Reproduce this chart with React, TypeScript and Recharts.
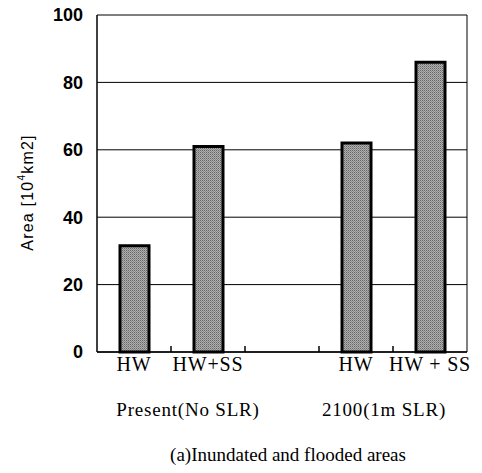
import React from "react";
import {
  BarChart,
  Bar,
  XAxis,
  YAxis,
  CartesianGrid,
} from "recharts";

const categories = ["HW", "HW+SS", "", "HW", "HW + SS"];
const areaValues = [31.5, 61, null, 62, 86];
const yTicks = [0, 20, 40, 60, 80, 100];
const groupLabels = ["Present(No SLR)", "2100(1m SLR)"];
const caption = "(a)Inundated and flooded areas";

const data = categories.map((name, i) => ({ name, area: areaValues[i] }));

const serif = "'Liberation Serif', 'Times New Roman', serif";
const sans = "'Liberation Sans', Arial, sans-serif";

const XTick = (props: any) => {
  const { x, y, payload } = props;
  return (
    <text
      x={x}
      y={y + 19}
      textAnchor="middle"
      fontFamily={serif}
      fontSize={20}
      letterSpacing={0.8}
      fill="#000"
    >
      {payload.value}
    </text>
  );
};

// short inward marks on the baseline between categories, placed from the axis box
const EdgeTicks = (props: any) => {
  const { viewBox } = props;
  if (!viewBox) return null;
  const n = categories.length;
  const step = viewBox.width / n;
  return (
    <g>
      {categories.slice(1).map((_, i) => {
        const x = viewBox.x + step * (i + 1);
        return (
          <path
            key={i}
            d={`M${x},${viewBox.y}V${viewBox.y - 6}`}
            stroke="#000"
            strokeWidth={1.5}
            fill="none"
          />
        );
      })}
    </g>
  );
};

const YLabel = (props: any) => {
  const { viewBox } = props;
  const cx = viewBox.x + 19;
  const cy = viewBox.y + viewBox.height / 2 + 9;
  return (
    <text
      x={cx}
      y={cy}
      transform={`rotate(-90 ${cx} ${cy})`}
      textAnchor="middle"
      dominantBaseline="central"
      fontFamily={sans}
      fontSize={16}
      letterSpacing={1.2}
      fill="#000"
    >
      Area [10<tspan fontSize={10} dy={-6}>4</tspan>
      <tspan dy={6}>km2]</tspan>
    </text>
  );
};

const App: React.FC = () => {
  return (
    <div style={{ position: "relative", width: 482, height: 473, margin: -8 }}>
      <BarChart
        width={482}
        height={473}
        data={data}
        margin={{ top: 15, right: 14, left: 8, bottom: 8 }}
        barCategoryGap={0}
      >
        <defs>
          <pattern id="halftone" width="2" height="2" patternUnits="userSpaceOnUse">
            <rect width="2" height="2" fill="#b0b0b0" />
            <rect width="1" height="1" fill="#666" />
            <rect x="1" y="1" width="1" height="1" fill="#888" />
          </pattern>
        </defs>
        <CartesianGrid vertical={false} stroke="#000" strokeWidth={1} />
        <XAxis
          dataKey="name"
          height={113}
          axisLine={{ stroke: "#000", strokeWidth: 1.5 }}
          tickLine={false}
          tickSize={0}
          tickMargin={0}
          interval={0}
          tick={<XTick />}
          label={<EdgeTicks />}
        />
        <YAxis
          width={89}
          domain={[0, 100]}
          ticks={yTicks}
          interval={0}
          axisLine={{ stroke: "#000", strokeWidth: 1.5 }}
          tickLine={false}
          tickSize={6}
          tickMargin={8}
          tick={{ fill: "#000", fontFamily: sans, fontWeight: "bold", fontSize: 18 }}
          label={<YLabel />}
        />
        <YAxis
          yAxisId="right"
          orientation="right"
          width={1}
          domain={[0, 100]}
          tick={false}
          tickLine={false}
          axisLine={{ stroke: "#000", strokeWidth: 1 }}
        />
        <Bar
          dataKey="area"
          barSize={29}
          fill="url(#halftone)"
          stroke="#000"
          strokeWidth={3}
          isAnimationActive={false}
        />
      </BarChart>
      <div
        style={{
          position: "absolute",
          top: 399,
          left: 0,
          width: 482,
          fontFamily: serif,
          fontSize: 19,
          letterSpacing: 0.8,
          color: "#000",
        }}
      >
        <span style={{ position: "absolute", left: 188, transform: "translateX(-50%)", whiteSpace: "nowrap" }}>
          {groupLabels[0]}
        </span>
        <span style={{ position: "absolute", left: 384, transform: "translateX(-50%)", whiteSpace: "nowrap" }}>
          {groupLabels[1]}
        </span>
      </div>
      <div
        style={{
          position: "absolute",
          top: 444,
          left: 288,
          transform: "translateX(-50%)",
          whiteSpace: "nowrap",
          fontFamily: serif,
          fontSize: 19,
          color: "#000",
        }}
      >
        {caption}
      </div>
    </div>
  );
};

export default App;
